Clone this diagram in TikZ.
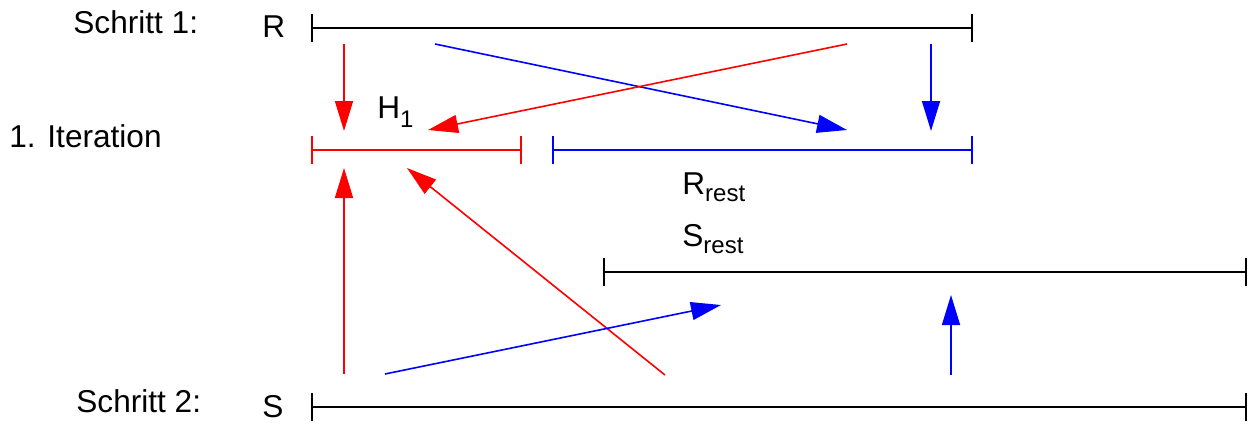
\documentclass[tikz,border=0pt]{standalone}
\usepackage{fontspec}
\setmainfont{Liberation Sans}
\usetikzlibrary{arrows.meta}
\newcommand\subtxt[2]{\raisebox{-#2}{\fontsize{12}{13}\selectfont #1}}
\begin{document}
\begin{tikzpicture}[x=0.5pt,y=-0.5pt,
  lbl/.style={inner sep=0pt,anchor=base west,font=\fontsize{15.8}{18}\selectfont},
  ival/.style={line width=1pt},
  tick/.style={line width=1.3pt},
  arr/.style={line width=0.8pt,-{Triangle[length=15pt,width=9pt]}},
  rarr/.style={arr,red},
  barr/.style={arr,blue}]
\useasboundingbox (0,0) rectangle (1252,423);
% labels
\node[lbl] (s1) at (73,33) {Schritt 1:};
\node[lbl] (it) at (9,147) {1. Iteration};
\node[lbl] (s2) at (76,412) {Schritt 2:};
\node[lbl] (rl) at (262,37) {R};
\node[lbl] (sl) at (262,417) {S};
\node[lbl] (h1) at (377,118) {H\subtxt{1}{4.5pt}};
\node[lbl] (rr) at (682,194) {R\subtxt{rest}{3.5pt}};
\node[lbl] (sr) at (682,246) {S\subtxt{rest}{3.5pt}};
% interval end points
\coordinate (Ra) at (312,28);  \coordinate (Rb) at (972,28);
\coordinate (Ha) at (312,150); \coordinate (Hb) at (521,150);
\coordinate (Ba) at (553,150); \coordinate (Bb) at (972,150);
\coordinate (Sra) at (604,272); \coordinate (Srb) at (1246,272);
\coordinate (Sa) at (312,407); \coordinate (Sb) at (1246,407);
% intervals
\draw[ival] (Ra) -- (Rb);
\foreach \p in {Ra,Rb} \draw[tick] ([yshift=7pt]\p) -- ([yshift=-7pt]\p);
\draw[ival,red] (Ha) -- (Hb);
\foreach \p in {Ha,Hb} \draw[tick,red] ([yshift=7pt]\p) -- ([yshift=-7pt]\p);
\draw[ival,blue] (Ba) -- (Bb);
\foreach \p in {Ba,Bb} \draw[tick,blue] ([yshift=7pt]\p) -- ([yshift=-7pt]\p);
\draw[ival] (Sra) -- (Srb);
\foreach \p in {Sra,Srb} \draw[tick] ([yshift=7pt]\p) -- ([yshift=-7pt]\p);
\draw[ival] (Sa) -- (Sb);
\foreach \p in {Sa,Sb} \draw[tick] ([yshift=7pt]\p) -- ([yshift=-7pt]\p);
% arrow endpoints
\coordinate (a1s) at (344,44);  \coordinate (a1e) at (344,131);
\coordinate (a2s) at (435,44);  \coordinate (a2e) at (847,130);
\coordinate (a3s) at (847,44);  \coordinate (a3e) at (428,130);
\coordinate (a4s) at (931,44);  \coordinate (a4e) at (931,131);
\coordinate (a5s) at (344,374); \coordinate (a5e) at (344,168);
\coordinate (a6s) at (665,375); \coordinate (a6e) at (407,168);
\coordinate (a7s) at (385,374); \coordinate (a7e) at (721,305);
\coordinate (a8s) at (951,375); \coordinate (a8e) at (951,295);
\draw[rarr] (a1s) -- (a1e);
\draw[barr] (a2s) -- (a2e);
\draw[rarr] (a3s) -- (a3e);
\draw[barr] (a4s) -- (a4e);
\draw[rarr] (a5s) -- (a5e);
\draw[rarr] (a6s) -- (a6e);
\draw[barr] (a7s) -- (a7e);
\draw[barr] (a8s) -- (a8e);
\end{tikzpicture}
\end{document}
